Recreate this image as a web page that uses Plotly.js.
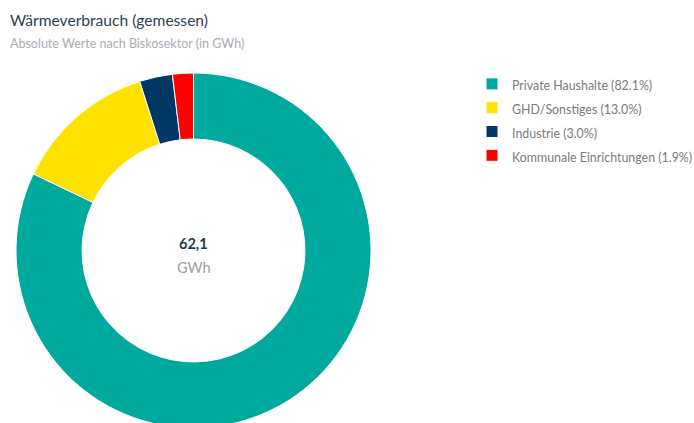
<!DOCTYPE html>
<html>
<head>
<meta charset="utf-8">
<script src="https://cdn.plot.ly/plotly-3.0.1.min.js"></script>
<style>
html,body{margin:0;padding:0;overflow:hidden;background:#fff;}
#chart{width:740px;height:480px;}
</style>
</head>
<body>
<div id="chart"></div>
<script>
const categories = ["Private Haushalte", "GHD/Sonstiges", "Industrie", "Kommunale Einrichtungen"];
const shares = [82.1, 13.0, 3.0, 1.9];
const colors = ["#00A99D", "#FFE100", "#003764", "#FF0000"];
const totalLabel = "62,1";
const unitLabel = "GWh";

const labels = categories.map((c, i) =>
  '<span style="font-size:12.4px">' + c + " (" + shares[i].toFixed(1) + "%)</span>");

const W = 740;
const H = 480;
const trace = {
  type: "pie",
  labels: labels,
  values: shares,
  marker: {colors: colors, line: {color: "#ffffff", width: 1}},
  hole: 0.628,
  sort: false,
  direction: "clockwise",
  rotation: 0,
  textinfo: "none",
  hoverinfo: "label",
  domain: {x: [16/W, 371/W], y: [1 - 428/H, 1 - 73/H]}
};

const layout = {
  width: W,
  height: H,
  margin: {l: 0, r: 0, t: 0, b: 0},
  paper_bgcolor: "#fff",
  font: {family: "Lato, sans-serif", color: "#777"},
  showlegend: true,
  legend: {
    x: 472/W, y: 1 - 67/H, xanchor: "left", yanchor: "top",
    font: {size: 16, color: "#7a7a7a", family: "Lato, sans-serif"},
    itemclick: false
  },
  annotations: [
    {text: "Wärmeverbrauch (gemessen)", x: 8/W, y: 1 - 20/H, xref: "paper", yref: "paper", xanchor: "left", yanchor: "middle", showarrow: false, font: {size: 15.6, color: "#2b3f55", family: "Lato, sans-serif"}},
    {text: "Absolute Werte nach Biskosektor (in GWh)", x: 8/W, y: 1 - 43/H, xref: "paper", yref: "paper", xanchor: "left", yanchor: "middle", showarrow: false, font: {size: 12.5, color: "#a9adb5", family: "Lato, sans-serif"}},
    {text: "<b>" + totalLabel + "</b>", x: 193.5/W, y: 1 - 243/H, xref: "paper", yref: "paper", xanchor: "center", yanchor: "middle", showarrow: false, font: {size: 14.5, color: "#1d3a5c", family: "Lato, sans-serif"}},
    {text: unitLabel, x: 193.5/W, y: 1 - 267/H, xref: "paper", yref: "paper", xanchor: "center", yanchor: "middle", showarrow: false, font: {size: 14.5, color: "#9a9fa8", family: "Lato, sans-serif"}}
  ]
};

Plotly.newPlot("chart", [trace], layout, {displayModeBar: false, staticPlot: true});
</script>
</body>
</html>
